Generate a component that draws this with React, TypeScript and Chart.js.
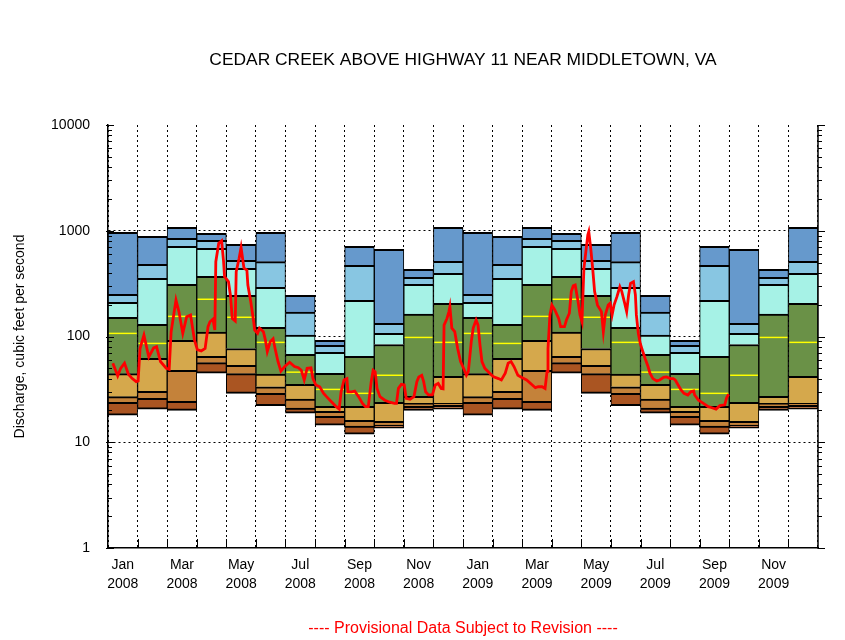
import React, { useEffect, useRef } from 'react';
import { Chart, registerables } from 'chart.js';

Chart.register(...registerables);

const TITLE = 'CEDAR CREEK ABOVE HIGHWAY 11 NEAR MIDDLETOWN, VA';
const Y_TITLE = 'Discharge, cubic feet per second';
const FOOTER = '---- Provisional Data Subject to Revision ----';

const MONTH_LABELS = [
  'Jan 2008', 'Feb 2008', 'Mar 2008', 'Apr 2008', 'May 2008', 'Jun 2008',
  'Jul 2008', 'Aug 2008', 'Sep 2008', 'Oct 2008', 'Nov 2008', 'Dec 2008',
  'Jan 2009', 'Feb 2009', 'Mar 2009', 'Apr 2009', 'May 2009', 'Jun 2009',
  'Jul 2009', 'Aug 2009', 'Sep 2009', 'Oct 2009', 'Nov 2009', 'Dec 2009',
];

// Monthly flow statistics by calendar month (Jan..Dec), cfs
const STAT_MAX = [967, 887, 1078, 946, 745, 967, 245, 92, 713, 668, 432, 1078];
const STAT_P95 = [251, 482, 849, 813, 526, 510, 170, 82.6, 471, 133, 363, 515];
const STAT_P90 = [210, 355, 713, 683, 442, 292, 103, 71, 220, 107, 312, 396];
const STAT_P75 = [152, 130, 312, 371, 245, 122, 68, 44.9, 65, 84, 163, 206];
const STAT_P50 = [107, 86, 155, 225, 152, 88, 46, 31.6, 29, 43, 98, 88];
const STAT_P25 = [44.5, 62, 92, 110, 77, 44, 35.3, 21.9, 21.9, 23.9, 27.2, 42];
const STAT_P10 = [27, 30.3, 47.9, 65, 53.4, 33.5, 25.6, 19.6, 16.1, 15.8, 23.3, 23.3];
const STAT_P05 = [23.9, 26, 24.4, 56.6, 44.5, 29, 21, 17.6, 14.2, 14.5, 21.9, 22.3];
const STAT_MIN = [18, 20.5, 20, 44.9, 29, 22.2, 18.8, 14.5, 11.9, 13.6, 20, 20.5];

// Daily discharge: day index from 2008-01-01, and value in cfs
const DAILY_DAY = [
  5, 10, 13, 17, 21, 25, 29, 31, 33, 37, 42, 47, 50, 54, 60, 63, 65, 70, 73, 77,
  81, 85, 89, 92, 96, 100, 103, 105, 108, 110, 111, 114, 117, 119, 120, 124, 126, 128, 131, 132,
  135, 137, 140, 143, 144, 147, 150, 151, 154, 156, 160, 162, 164, 167, 170, 172, 175, 178, 182, 187,
  192, 196, 199, 202, 205, 209, 211, 214, 218, 222, 225, 230, 235, 238, 240, 243, 246, 247, 251, 254,
  258, 262, 265, 268, 271, 273, 275, 277, 280, 285, 290, 295, 297, 299, 302, 305, 307, 311, 315, 318,
  320, 323, 325, 327, 330, 334, 337, 340, 343, 345, 346, 349, 351, 352, 354, 357, 360, 363, 367, 369,
  371, 374, 376, 379, 381, 383, 385, 388, 393, 397, 402, 405, 409, 412, 415, 418, 422, 426, 431, 436,
  440, 443, 447, 450, 452, 453, 455, 457, 460, 464, 466, 470, 472, 475, 477, 479, 481, 484, 486, 488,
  490, 492, 494, 495, 497, 499, 501, 504, 508, 510, 512, 515, 517, 519, 521, 524, 527, 529, 532, 534,
  536, 538, 541, 543, 544, 546, 548, 550, 553, 556, 558, 561, 565, 568, 572, 575, 579, 582, 584, 587,
  590, 593, 597, 600, 603, 604, 608, 613, 618, 621, 626, 630, 635, 637, 639,
];
const DAILY_CFS = [
  56, 42.5, 50, 56, 44, 40, 37.4, 38, 77, 103, 64, 78, 80, 58, 50, 49, 111, 221, 172, 107,
  154, 160, 93, 75, 73, 77, 124, 138, 146, 115, 510, 761, 804, 510, 368, 330, 247, 148, 140, 410,
  550, 693, 442, 425, 307, 213, 138, 115, 107, 120, 111, 93, 72, 89, 95, 77, 58, 47, 52, 57,
  52, 50.6, 48, 38.8, 50, 50.6, 40, 34.8, 33.5, 29, 27, 24.2, 21.7, 20.6, 30, 38.8, 40, 30, 30, 30.5,
  27, 23.3, 21.7, 21.7, 37.4, 48, 46.5, 32.3, 27, 25, 23.9, 23.3, 23.3, 32.3, 35.3, 34.8, 26, 25.5, 27, 37.4,
  41.5, 43, 37.4, 30, 28, 28, 34.8, 36, 32.3, 32, 128, 148, 172, 191, 120, 111, 77, 58, 48, 43,
  46.5, 89, 120, 143, 128, 83, 58, 50, 45, 41.5, 40, 38.8, 45, 56, 58, 52, 43, 41, 38.8, 35.3,
  32.8, 33.5, 33.5, 32.3, 46.5, 77, 160, 198, 178, 148, 124, 124, 143, 166, 266, 302, 307, 213, 160, 138,
  442, 635, 912, 980, 683, 442, 266, 198, 172, 111, 160, 198, 206, 160, 198, 238, 295, 266, 206, 172,
  247, 318, 330, 247, 160, 107, 86, 75, 62, 52, 45, 40, 38, 38.8, 41, 41.5, 40, 40, 38.8, 34.8,
  31.2, 29, 28, 30, 30.5, 28, 25, 23.3, 21.7, 21.3, 20.6, 22.2, 22.6, 26.4, 28.4,
];

const DECADES = [1, 10, 100, 1000, 10000];
const GRID_DECADES = [10, 100, 1000];

const BAND_COLORS = ['#AA5522', '#C4823A', '#D5A84C', '#6A9147', '#A6F2E6', '#88C6E2', '#6699CC'];

const FONT = "'Liberation Sans', Arial, Helvetica, sans-serif";

const axisDecor = {
  id: 'axisDecor',
  afterDatasetsDraw(chart: any) {
    const { ctx, chartArea: a, scales } = chart;
    const y = scales.y;
    const x = scales.x;
    ctx.save();
    ctx.strokeStyle = '#000';
    const seg = (x1: number, y1: number, x2: number, y2: number) => {
      ctx.beginPath();
      ctx.moveTo(x1, y1);
      ctx.lineTo(x2, y2);
      ctx.stroke();
    };
    ctx.lineWidth = 1.5;
    seg(a.right, a.top, a.right, a.bottom + 0.75);
    ctx.lineWidth = 1;
    for (const d of DECADES) {
      for (let k = 1; k < 10; k++) {
        const v = d * k;
        if (v > 10000) break;
        const py = Math.round(y.getPixelForValue(v)) + 0.5;
        if (k === 1) {
          seg(a.left - 2, py, a.left + 6, py);
          seg(a.right, py, a.right + 7, py);
        } else {
          seg(a.left, py, a.left + 4, py);
          seg(a.right, py, a.right + 4, py);
        }
      }
    }
    const step = x.getPixelForValue(1) - x.getPixelForValue(0);
    for (let i = 1; i < MONTH_LABELS.length; i++) {
      const px = Math.round(x.getPixelForValue(i) - step / 2) + 0.5;
      seg(px, a.bottom, px, a.bottom - 9);
    }
    ctx.restore();
  },
};

export default function App() {
  const ref = useRef<HTMLCanvasElement | null>(null);

  useEffect(() => {
    if (!ref.current) return;
    Chart.defaults.font.family = FONT;
    Chart.defaults.color = '#000';

    const rep = (arr: number[]) => [...arr, ...arr];
    const levels = [STAT_MIN, STAT_P05, STAT_P10, STAT_P25, STAT_P75, STAT_P90, STAT_P95, STAT_MAX].map(rep);
    const median = rep(STAT_P50);

    const bandSets = BAND_COLORS.map((color, b) => ({
      type: 'bar' as const,
      label: 'band' + b,
      data: levels[b].map((lo, i) => [lo, levels[b + 1][i]]),
      backgroundColor: color,
      borderColor: '#000',
      borderWidth: { top: 2, bottom: b === 0 ? 2 : 0, left: 1, right: 1 },
      borderSkipped: false,
      barPercentage: 1,
      categoryPercentage: 1,
      grouped: false,
      xAxisID: 'x',
      yAxisID: 'y',
      order: 2,
    }));

    const medianSet = {
      type: 'bar' as const,
      label: 'median',
      data: median.map((m) => [m / 1.016, m * 1.016]),
      backgroundColor: '#FFFF00',
      borderWidth: 0,
      barPercentage: 0.94,
      categoryPercentage: 1,
      grouped: false,
      xAxisID: 'x',
      yAxisID: 'y',
      order: 1,
    };

    const lineSet = {
      type: 'line' as const,
      label: 'daily',
      data: DAILY_DAY.map((d, i) => ({ x: d, y: DAILY_CFS[i] })),
      borderColor: '#FF0000',
      borderWidth: 2.8,
      pointRadius: 0,
      tension: 0,
      fill: false,
      xAxisID: 'xd',
      yAxisID: 'y',
      order: 0,
    };

    const chart = new Chart(ref.current, {
      type: 'bar',
      data: {
        labels: MONTH_LABELS,
        datasets: [lineSet as any, medianSet as any, ...(bandSets as any[])],
      },
      options: {
        responsive: false,
        animation: false,
        devicePixelRatio: 1,
        layout: { padding: { left: 0, right: 27, top: 0, bottom: 0 } },
        plugins: {
          legend: { display: false },
          tooltip: { enabled: false },
          title: {
            display: true,
            text: TITLE,
            fullSize: false,
            color: '#000',
            font: { family: FONT, size: 17.4, weight: 'normal', lineHeight: 1.2 },
            padding: { top: 50, bottom: 54.12 },
          },
          subtitle: {
            display: true,
            text: FOOTER,
            position: 'bottom',
            fullSize: false,
            color: '#FF0000',
            font: { family: FONT, size: 16, weight: 'normal', lineHeight: 1.2 },
            padding: { top: 8, bottom: 1.8 },
          },
        },
        scales: {
          x: {
            type: 'category',
            offset: true,
            afterFit: (s: any) => { s.height = 63; },
            grid: {
              offset: true,
              drawTicks: false,
              color: '#000',
              lineWidth: 1,
            },
            border: { display: true, color: '#000', width: 1.5, dash: [2, 3], z: 1 },
            ticks: {
              autoSkip: false,
              maxRotation: 0,
              minRotation: 0,
              padding: 7,
              color: '#000',
              font: { family: FONT, size: 14, lineHeight: 1.4 },
              callback: (_v: any, i: number) => (i % 2 === 0 ? MONTH_LABELS[i].split(' ') : ''),
            },
          },
          xd: {
            type: 'linear',
            display: false,
            offset: false,
            grace: 0,
            bounds: 'ticks',
            min: 0,
            max: 731,
          },
          y: {
            type: 'logarithmic',
            min: 1,
            max: 10000,
            afterFit: (s: any) => { s.width = 108; },
            grid: {
              drawTicks: false,
              lineWidth: 1,
              color: (c: any) => (c.tick && GRID_DECADES.includes(c.tick.value) ? '#000' : 'rgba(0,0,0,0)'),
            },
            border: { display: true, color: '#000', width: 1.5, dash: [2, 3], z: 1 },
            ticks: {
              autoSkip: false,
              padding: 18,
              color: '#000',
              font: { family: FONT, size: 14 },
              callback: (v: any) => (DECADES.includes(Number(v)) ? String(v) : ''),
            },
            title: {
              display: true,
              text: Y_TITLE,
              color: '#000',
              font: { family: FONT, size: 14 },
              padding: { top: 11.6, bottom: 0 },
            },
          },
        },
      },
      plugins: [axisDecor],
    } as any);

    return () => chart.destroy();
  }, []);

  return (
    <div style={{ position: 'fixed', left: 0, top: 0, width: 845, height: 640, background: '#fff' }}>
      <canvas ref={ref} width={845} height={640} style={{ display: 'block', width: 845, height: 640 }} />
    </div>
  );
}
